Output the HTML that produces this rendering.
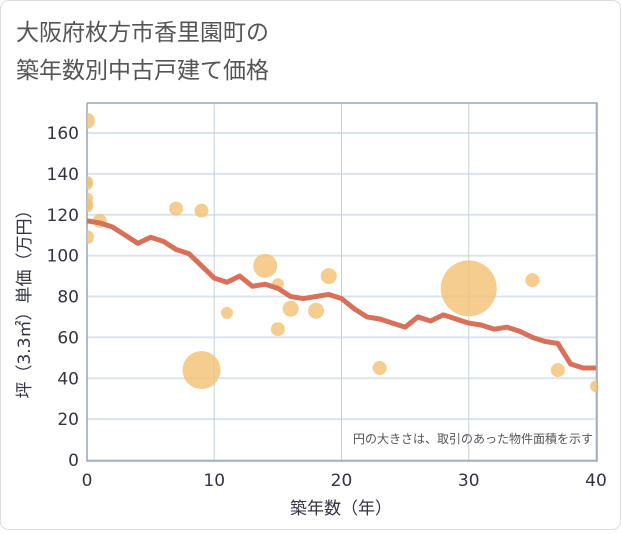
<!DOCTYPE html>
<html><head><meta charset="utf-8"><style>
body{margin:0;background:#fff;font-family:"DejaVu Sans","Noto Sans CJK JP",sans-serif;}
svg text{font-family:"DejaVu Sans","Noto Sans CJK JP",sans-serif;}
</style></head><body>
<svg id="c" width="621" height="530">
<defs><clipPath id="pc"><rect x="87" y="103" width="510" height="358"/></clipPath></defs>
<rect x="0.5" y="0.5" width="620" height="529" rx="8" fill="#fff" stroke="#ddd"/>
<text x="16" y="40" font-size="23" fill="#555">大阪府枚方市香里園町の</text>
<text x="16" y="78" font-size="23" fill="#555">築年数別中古戸建て価格</text>
<g id="grid"></g><g id="marks" clip-path="url(#pc)"></g>
<text x="593" y="443" font-size="12" fill="#555" text-anchor="end">円の大きさは、取引のあった物件面積を示す</text>
<text x="341" y="514" font-size="17" fill="#334" text-anchor="middle">築年数（年）</text>
<text transform="translate(30,300) rotate(-90)" font-size="17" fill="#334" text-anchor="middle">坪（3.3㎡）単価（万円）</text>
</svg>
<script>
const xTicks=[0,10,20,30,40];
const yTicks=[0,20,40,60,80,100,120,140,160];
const lineYears=[0,1,2,3,4,5,6,7,8,9,10,11,12,13,14,15,16,17,18,19,20,21,22,23,24,25,26,27,28,29,30,31,32,33,34,35,36,37,38,39,40];
const lineValues=[117,116,114,110,106,109,107,103,101,95,89,87,90,85,86,84,80,79,80,81,79,74,70,69,67,65,70,68,71,69,67,66,64,65,63,60,58,57,47,45,45];
const ptYears=[0,0,0,0,0,0,0,1,7,9,9,11,14,15,15,16,18,19,23,30,35,37,40];
const ptValues=[166,136,135,128,125,124,109,117,123,122,44,72,95,86,64,74,73,90,45,84,88,44,36];
const ptRadius=[8,6,6,6,6,6,7,7,7,7,19,6,12,6,7,8,8,8,7,28,7,7,6];
const X=v=>87+v*(596-87)/40, Y=v=>460-v*(460-133)/160;
const ns="http://www.w3.org/2000/svg",g=document.getElementById('grid'),m=document.getElementById('marks');
function mk(p,t,a){const e=document.createElementNS(ns,t);for(const k in a)e.setAttribute(k,a[k]);p.appendChild(e);return e;}
yTicks.forEach(v=>{const l=mk(g,'line',{x1:87,x2:597,y1:Y(v),y2:Y(v),stroke:'#dbe4ee','stroke-width':2});


const t=mk(g,'text',{x:79,y:Y(v)+6,'font-size':17,fill:'#334','text-anchor':'end'});t.textContent=v;

});
xTicks.forEach(v=>{const l=mk(g,'line',{x1:X(v),x2:X(v),y1:103,y2:461,stroke:'#c5d0dc','stroke-width':1});


const t=mk(g,'text',{x:X(v),y:486,'font-size':17,fill:'#334','text-anchor':'middle'});t.textContent=v;

});
const fr=mk(g,'path',{d:'M87 103V461H597V103H87',fill:'none',stroke:'#99a6b4','stroke-width':1.5});


ptYears.forEach((x,i)=>{const c=mk(m,'circle',{cx:X(x),cy:Y(ptValues[i]),r:ptRadius[i],fill:'#f2c173','fill-opacity':0.8});

});
const pl=mk(m,'polyline',{points:lineYears.map((x,i)=>X(x)+','+Y(lineValues[i])).join(' '),fill:'none',stroke:'#d8705a','stroke-width':5,'stroke-linejoin':'round'});


</script>
</body></html>
